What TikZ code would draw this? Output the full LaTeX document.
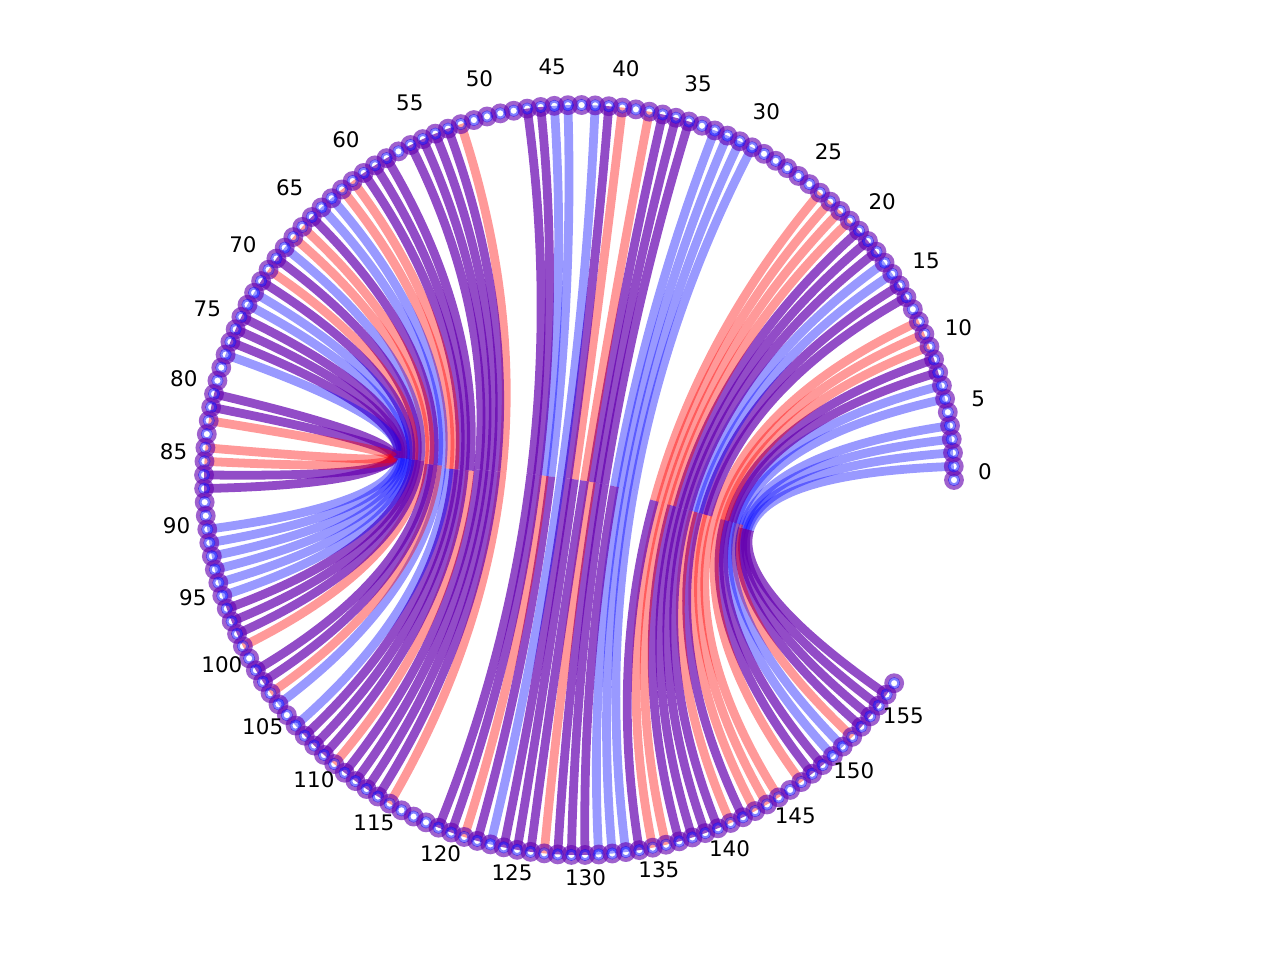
\documentclass[tikz,border=0pt]{standalone}
\usepackage{fontspec}
\setmainfont{DejaVu Sans}
\usetikzlibrary{calc}
\definecolor{cR}{RGB}{255,0,0}
\definecolor{cB}{RGB}{0,0,255}
\definecolor{cP}{RGB}{100,0,175}
\tikzset{
  hR/.style={draw=cR,draw opacity=0.4,line width=5pt},
  hB/.style={draw=cB,draw opacity=0.4,line width=5pt},
  hP/.style={draw=cP,draw opacity=0.7,line width=5pt},
  ringout/.style={draw=cP,draw opacity=0.62,line width=2.6pt},
  ringin/.style={draw=cB,draw opacity=0.5,line width=1.5pt},
  lab/.style={font=\fontsize{12.2}{14}\selectfont,inner sep=0pt}
}
\begin{document}
\begin{tikzpicture}[x=0.02cm,y=-0.02cm]
\useasboundingbox (0,0) rectangle (1280,960);
\coordinate (c) at (579,480);
\foreach \i in {0,...,157}{
  \coordinate (p\i) at ({579+375*cos(\i*2.084)},{480-375*sin(\i*2.084)});
}
% chords: each half coloured by its own end point
\foreach \a/\b/\ca/\cb in {
1/156/B/P, 2/155/B/P, 3/154/B/P, 4/153/B/P, 6/152/B/R, 7/151/B/B, 8/150/P/B, 9/149/P/P,
10/148/R/P, 11/147/R/R, 12/145/R/R, 14/144/P/R, 15/143/P/R, 16/142/B/P, 17/141/B/R,
18/140/P/P, 19/139/P/P, 20/138/P/P, 21/137/R/P, 22/136/R/R, 23/135/R/R, 24/134/R/P,
30/133/B/B, 31/132/B/B, 32/131/B/B, 33/130/B/P, 35/129/P/P, 36/128/P/P, 37/127/P/R,
38/126/R/P, 40/125/R/P, 41/124/P/P, 42/123/B/B, 44/122/B/P, 45/121/B/R, 46/120/P/P,
47/119/P/P, 52/115/R/R, 53/114/P/P, 54/113/P/P, 55/112/P/P, 56/111/P/P, 58/110/P/R,
59/109/P/P, 60/108/P/P, 61/107/R/P, 62/106/R/B, 63/104/B/B, 64/103/B/R, 65/102/P/P,
66/101/R/P, 67/99/R/R, 68/98/B/P, 69/97/P/P, 70/96/R/P, 71/95/P/B, 72/94/B/B,
73/93/B/B, 74/92/P/B, 75/91/P/B, 76/90/P/B, 77/87/B/P, 80/86/P/P, 81/85/P/R, 82/84/R/R}{
  \coordinate (m) at ($0.25*(p\a)+0.25*(p\b)+0.5*(c)$);
  \draw[h\ca] (p\a) .. controls ($0.6667*(p\a)+0.3333*(c)$) and ($0.41667*(p\a)+0.08333*(p\b)+0.5*(c)$) .. (m);
  \draw[h\cb] (p\b) .. controls ($0.6667*(p\b)+0.3333*(c)$) and ($0.41667*(p\b)+0.08333*(p\a)+0.5*(c)$) .. (m);
}
% markers
\foreach \i in {0,...,157}{
  \draw[ringout] (p\i) circle (7.6);
  \draw[ringin] (p\i) circle (4.6);
}
% labels
\foreach \i in {0,5,...,155}{
  \node[lab] (l\i) at ({579+406*cos(\i*2.084)},{472-406*sin(\i*2.084)}) {\i};
}
\end{tikzpicture}
\end{document}
